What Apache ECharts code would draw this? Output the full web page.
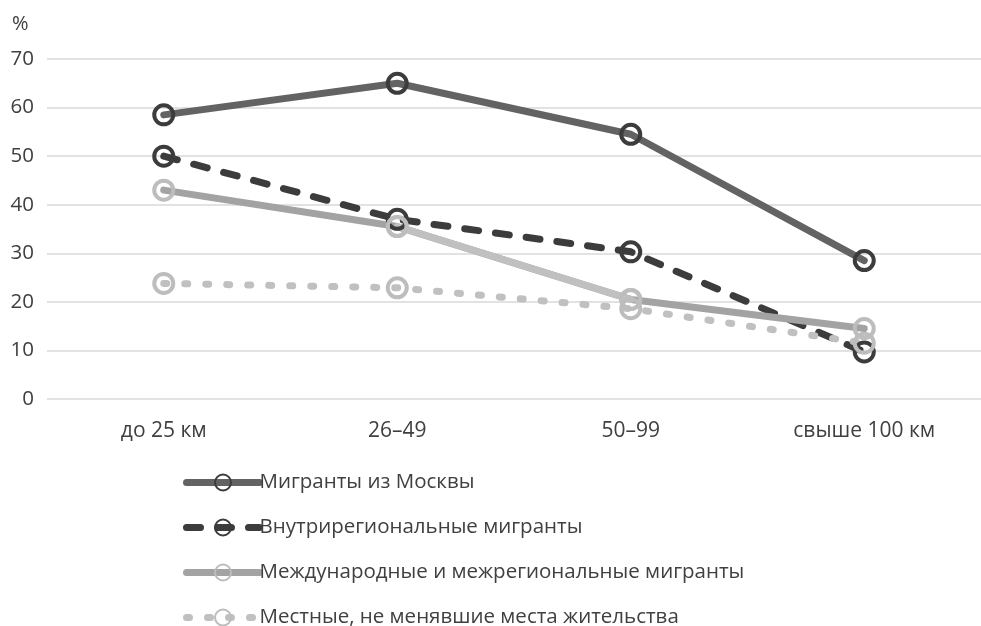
<!DOCTYPE html>
<html>
<head>
    <meta http-equiv=Content-Type content="text/html; charset=utf-8">
    <title>Мигранты</title>
    <script type="text/javascript" src="https://cdn.jsdelivr.net/npm/echarts@6/dist/echarts.min.js"></script>
    <style>
        html, body { margin: 0; padding: 0; background: #fff; }
        #chartmain { width: 981px; height: 626px; }
    </style>
</head>
<body>
<div id="chartmain"></div>
<script type="text/javascript">
    // категории по оси X
    var categories = ['до 25 км', '26–49', '50–99', 'свыше 100 км'];
    var seriesNames = ['Мигранты из Москвы', 'Внутрирегиональные мигранты',
        'Международные и межрегиональные мигранты', 'Местные, не менявшие места жительства'];
    // значения, %
    var moscow = [58.5, 65, 54.5, 28.5];
    var intraRegional = [50, 37, 30.3, 9.7];
    var international = [43, 35.5, 20.5, 14.5];
    var local = [23.8, 22.9, 18.6, 11.5];
    // средний отрезок международных мигрантов светлее
    var internationalMid = [null, 35.5, 20.5, null];

    var font = '"Open Sans", "Noto Sans", sans-serif';

    function lineSeries(name, data, lineColor, markColor, dash) {
        return {
            name: name,
            type: 'line',
            data: data,
            symbol: 'circle',
            symbolSize: 19,
            lineStyle: {width: 7, color: lineColor, type: dash || 'solid', cap: 'round', join: 'round'},
            itemStyle: {color: 'rgba(255,255,255,0)', borderColor: markColor, borderWidth: 4, opacity: 1},
            emphasis: {disabled: true}
        };
    }

    var myChart = echarts.init(document.getElementById('chartmain'));
    var series = [
        lineSeries(seriesNames[0], moscow, '#636363', '#3c3c3c'),
        lineSeries(seriesNames[1], intraRegional, '#3c3c3c', '#3c3c3c', [14, 17]),
        lineSeries(seriesNames[2], international, '#a3a3a3', '#bdbdbd'),
        lineSeries('mid', internationalMid, '#c0c0c0', '#bdbdbd'),
        lineSeries(seriesNames[3], local, '#c0c0c0', '#bdbdbd', [3, 18])
    ];

    var option = {
        animation: false,
        textStyle: {fontFamily: font},
        title: {
            text: '%',
            left: 7,
            top: 9,
            textStyle: {color: '#404040', fontSize: 20, fontWeight: 'normal', fontFamily: font}
        },
        grid: {left: 47, top: 59, width: 940, height: 340, containLabel: false},
        xAxis: {
            type: 'category',
            data: categories,
            boundaryGap: true,
            axisLine: {show: false},
            axisTick: {show: false},
            axisLabel: {color: '#404040', fontSize: 21, fontFamily: font, margin: 22}
        },
        yAxis: {
            type: 'value',
            min: 0,
            max: 70,
            interval: 10,
            axisLine: {show: false},
            axisTick: {show: false},
            axisLabel: {color: '#404040', fontSize: 20.5, fontFamily: font, margin: 13},
            splitLine: {lineStyle: {color: '#d9d9d9', width: 1.5}}
        },
        legend: {
            data: seriesNames,
            orient: 'vertical',
            left: 178,
            top: 467,
            height: 160,
            itemWidth: 73,
            itemHeight: 20,
            itemGap: 24,
            lineStyle: {width: 7},
            textStyle: {color: '#404040', fontSize: 20.5, fontFamily: font, padding: [0, 0, 0, -5]},
            selectedMode: false
        },
        series: series
    };
    myChart.setOption(option);
</script>
</body>
</html>
